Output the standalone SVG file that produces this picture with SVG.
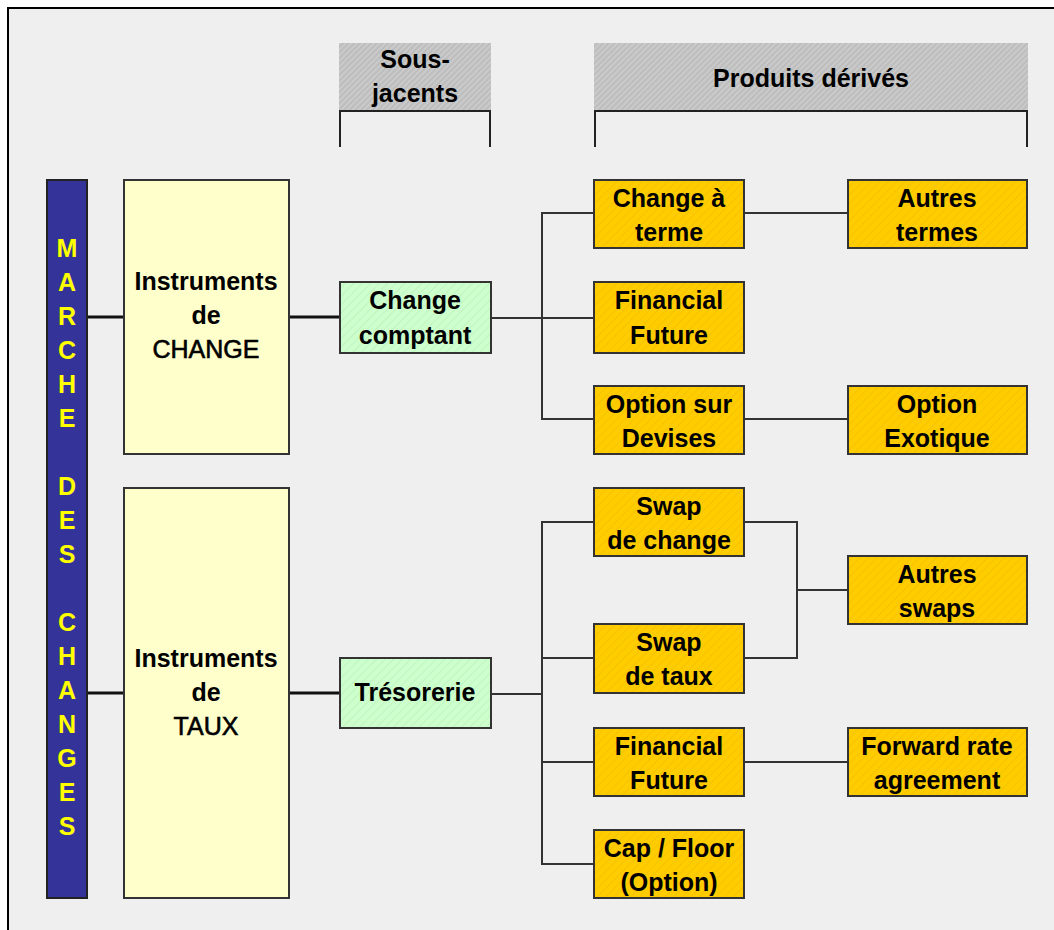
<svg xmlns="http://www.w3.org/2000/svg" width="1054" height="930" viewBox="0 0 1054 930">
<defs>
<pattern id="hatchGray" width="4" height="4" patternUnits="userSpaceOnUse" patternTransform="rotate(45)">
<rect width="4" height="4" fill="#CACACA"/>
<rect width="2" height="4" fill="#BDBDBD"/>
</pattern>
<pattern id="hatchOrange" width="6" height="6" patternUnits="userSpaceOnUse" patternTransform="rotate(45)">
<rect width="6" height="6" fill="#FFCC00"/>
<rect width="1" height="6" fill="#F5C400"/>
</pattern>
<pattern id="hatchGreen" width="6" height="6" patternUnits="userSpaceOnUse" patternTransform="rotate(45)">
<rect width="6" height="6" fill="#CCFFCC"/>
<rect width="1" height="6" fill="#C2F2C2"/>
</pattern>
<style>
text{font-family:"Liberation Sans",Arial,sans-serif;font-weight:bold;font-size:25px;fill:#000;text-anchor:middle}
.box{stroke:#333;stroke-width:2}
.orange{fill:url(#hatchOrange)}
.green{fill:url(#hatchGreen)}
.yellow{fill:#FFFFCC}
.hdr{fill:url(#hatchGray)}
.thin{fill:none;stroke:#333;stroke-width:2}
.thick{fill:none;stroke:#111;stroke-width:3}
.brk{fill:none;stroke:#222;stroke-width:2}
.reg{font-weight:normal;stroke:#000;stroke-width:0.6}
.vert{fill:#FFFF00;font-size:25px}
</style>
</defs>
<rect x="0" y="0" width="1054" height="930" fill="#FFFFFF"/>
<rect x="8" y="8" width="1046" height="922" fill="#EFEFEF"/>
<path d="M8,930 V8 H1054" fill="none" stroke="#000" stroke-width="2"/>

<g id="header-sous-jacents">
<rect class="hdr" x="339" y="43" width="152" height="68"/>
<path class="brk" d="M340,147 V111 H490 V147"/>
<text x="415" y="68">Sous-</text>
<text x="415" y="102">jacents</text>
</g>
<g id="header-produits">
<rect class="hdr" x="594" y="43" width="434" height="68"/>
<path class="brk" d="M595,147 V111 H1027 V147"/>
<text x="811" y="87">Produits dérivés</text>
</g>

<g id="connectors">
<path class="thick" d="M87,317 H123 M289,317 H340"/>
<path class="thick" d="M87,693 H123 M289,693 H340"/>
<path class="thin" d="M491,318 H542 M594,213 H542 V419 H594 M542,318 H594"/>
<path class="thin" d="M744,213 H848 M744,419 H848"/>
<path class="thin" d="M491,694 H542 M594,522 H542 V864 H594 M542,658 H594 M542,762 H594"/>
<path class="thin" d="M744,522 H797 V658 H744 M797,590 H848"/>
<path class="thin" d="M744,762 H848"/>
</g>

<g id="marche-des-changes">
<rect x="47" y="180" width="40" height="718" fill="#333399" stroke="#222" stroke-width="2"/>
<text class="vert" x="67" y="257">M<tspan x="67" dy="34">A</tspan><tspan x="67" dy="34">R</tspan><tspan x="67" dy="34">C</tspan><tspan x="67" dy="34">H</tspan><tspan x="67" dy="34">E</tspan><tspan x="67" dy="68">D</tspan><tspan x="67" dy="34">E</tspan><tspan x="67" dy="34">S</tspan><tspan x="67" dy="68">C</tspan><tspan x="67" dy="34">H</tspan><tspan x="67" dy="34">A</tspan><tspan x="67" dy="34">N</tspan><tspan x="67" dy="34">G</tspan><tspan x="67" dy="34">E</tspan><tspan x="67" dy="34">S</tspan></text>
</g>

<g id="instruments-change">
<rect class="box yellow" x="124" y="180" width="165" height="274"/>
<text x="206" y="290">Instruments</text>
<text x="206" y="324">de</text>
<text class="reg" x="206" y="358">CHANGE</text>
</g>
<g id="instruments-taux">
<rect class="box yellow" x="124" y="488" width="165" height="410"/>
<text x="206" y="667">Instruments</text>
<text x="206" y="701">de</text>
<text class="reg" x="206" y="735">TAUX</text>
</g>

<g id="change-comptant">
<rect class="box green" x="340" y="282" width="151" height="71"/>
<text x="415" y="309">Change</text>
<text x="415" y="344">comptant</text>
</g>
<g id="tresorerie">
<rect class="box green" x="340" y="658" width="151" height="70"/>
<text x="415" y="701">Trésorerie</text>
</g>

<g id="change-a-terme">
<rect class="box orange" x="594" y="180" width="150" height="68"/>
<text x="669" y="207">Change à</text>
<text x="669" y="241">terme</text>
</g>
<g id="autres-termes">
<rect class="box orange" x="848" y="180" width="179" height="68"/>
<text x="937" y="207">Autres</text>
<text x="937" y="241">termes</text>
</g>
<g id="financial-future-1">
<rect class="box orange" x="594" y="282" width="150" height="71"/>
<text x="669" y="309">Financial</text>
<text x="669" y="344">Future</text>
</g>
<g id="option-sur-devises">
<rect class="box orange" x="594" y="386" width="150" height="68"/>
<text x="669" y="413">Option sur</text>
<text x="669" y="447">Devises</text>
</g>
<g id="option-exotique">
<rect class="box orange" x="848" y="386" width="179" height="68"/>
<text x="937" y="413">Option</text>
<text x="937" y="447">Exotique</text>
</g>
<g id="swap-de-change">
<rect class="box orange" x="594" y="488" width="150" height="68"/>
<text x="669" y="515">Swap</text>
<text x="669" y="549">de change</text>
</g>
<g id="autres-swaps">
<rect class="box orange" x="848" y="556" width="179" height="68"/>
<text x="937" y="583">Autres</text>
<text x="937" y="617">swaps</text>
</g>
<g id="swap-de-taux">
<rect class="box orange" x="594" y="624" width="150" height="69"/>
<text x="669" y="651">Swap</text>
<text x="669" y="685">de taux</text>
</g>
<g id="financial-future-2">
<rect class="box orange" x="594" y="728" width="150" height="68"/>
<text x="669" y="755">Financial</text>
<text x="669" y="789">Future</text>
</g>
<g id="forward-rate-agreement">
<rect class="box orange" x="848" y="728" width="179" height="68"/>
<text x="937" y="755">Forward rate</text>
<text x="937" y="789">agreement</text>
</g>
<g id="cap-floor">
<rect class="box orange" x="594" y="830" width="150" height="68"/>
<text x="669" y="857">Cap / Floor</text>
<text x="669" y="891">(Option)</text>
</g>
</svg>
